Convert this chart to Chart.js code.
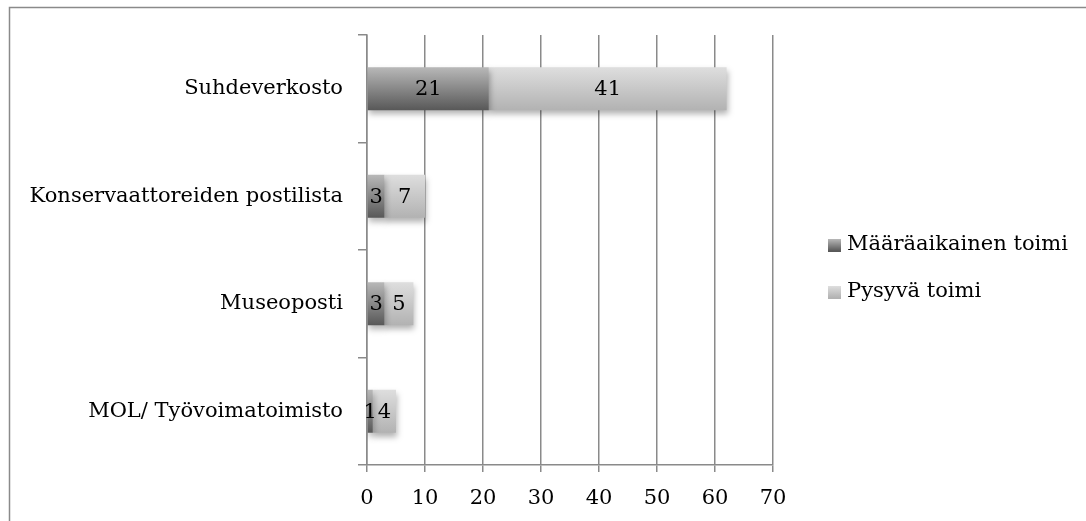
<!DOCTYPE html>
<html>
<head>
<meta charset="utf-8">
<script src="https://cdn.jsdelivr.net/npm/chart.js@4"></script>
<style>
    html, body { margin: 0; padding: 0; background: #fff; }
    #wrap { width: 1086px; height: 521px; position: relative; }
</style>
</head>
<body>
<div id="wrap"><canvas id="chart"></canvas></div>
<script>
const categories = ['Suhdeverkosto', 'Konservaattoreiden postilista', 'Museoposti', 'MOL/ Työvoimatoimisto'];
const seriesNames = ['Määräaikainen toimi', 'Pysyvä toimi'];
const fixedTerm = [21, 3, 3, 1];
const permanent = [41, 7, 5, 4];
const xTicks = [0, 10, 20, 30, 40, 50, 60, 70];

const FONT = '"DejaVu Serif", serif';
const FONT_SIZE = 21;
const CAT_PCT = 0.8, BAR_PCT = 0.5;
const gradStops = [['#b8b8b8', '#585858'], ['#dedede', '#b2b2b2']];

// vertical gradient over each bar, worked out from the category scale
function barFill(ctx) {
    const chart = ctx.chart;
    const stops = gradStops[ctx.datasetIndex];
    const y = chart.scales && chart.scales.y;
    if (!chart.chartArea || !y || ctx.dataIndex == null) return stops[1];
    const mid = y.getPixelForValue(ctx.dataIndex);
    const half = (y.height / categories.length) * CAT_PCT * BAR_PCT / 2;
    if (!isFinite(mid) || !isFinite(half)) return stops[1];
    const g = chart.ctx.createLinearGradient(0, mid - half, 0, mid + half);
    g.addColorStop(0, stops[0]);
    g.addColorStop(1, stops[1]);
    return g;
}

const framePlugin = {
    id: 'frame',
    beforeDraw(chart) {
        const c = chart.ctx;
        c.save();
        c.strokeStyle = '#8a8a8a';
        c.lineWidth = 1.5;
        c.beginPath();
        c.moveTo(1086, 7.5);
        c.lineTo(9.5, 7.5);
        c.lineTo(9.5, 521);
        c.stroke();
        c.restore();
    }
};

const shadowPlugin = {
    id: 'barShadow',
    beforeDatasetsDraw(chart) {
        const c = chart.ctx;
        c.save();
        c.shadowColor = 'rgba(0,0,0,0.3)';
        c.shadowBlur = 6;
        c.shadowOffsetX = 1;
        c.shadowOffsetY = 4;
    },
    afterDatasetsDraw(chart) {
        chart.ctx.restore();
    }
};

const labelPlugin = {
    id: 'valueLabels',
    afterDatasetsDraw(chart) {
        const c = chart.ctx;
        c.save();
        c.font = FONT_SIZE + 'px ' + FONT;
        c.fillStyle = '#000';
        c.textAlign = 'center';
        c.textBaseline = 'middle';
        chart.data.datasets.forEach((ds, i) => {
            chart.getDatasetMeta(i).data.forEach((bar, j) => {
                const p = bar.getCenterPoint();
                c.fillText(String(ds.data[j]), p.x, p.y + 1);
            });
        });
        c.restore();
    }
};

const legendPlugin = {
    id: 'sideLegend',
    afterDraw(chart) {
        const c = chart.ctx;
        c.save();
        c.font = FONT_SIZE + 'px ' + FONT;
        c.textBaseline = 'middle';
        c.textAlign = 'left';
        chart.data.datasets.forEach((ds, i) => {
            const cy = 245 + i * 47;
            const g = c.createLinearGradient(0, cy - 6, 0, cy + 6);
            g.addColorStop(0, gradStops[i][0]);
            g.addColorStop(1, gradStops[i][1]);
            c.fillStyle = g;
            c.fillRect(828, cy - 6, 13, 13);
            c.fillStyle = '#000';
            c.fillText(ds.label, 847, cy);
        });
        c.restore();
    }
};

new Chart(document.getElementById('chart'), {
    type: 'bar',
    data: {
        labels: categories,
        datasets: [
            { label: seriesNames[0], data: fixedTerm, backgroundColor: barFill },
            { label: seriesNames[1], data: permanent, backgroundColor: barFill }
        ]
    },
    options: {
        indexAxis: 'y',
        responsive: true,
        maintainAspectRatio: false,
        animation: false,
        layout: { padding: { top: 35, right: 313, left: 0, bottom: 0 } },
        datasets: { bar: { categoryPercentage: CAT_PCT, barPercentage: BAR_PCT } },
        plugins: {
            legend: { display: false },
            tooltip: { enabled: false }
        },
        scales: {
            x: {
                stacked: true,
                min: 0,
                max: 70,
                afterBuildTicks(scale) {
                    scale.ticks = xTicks.map(v => ({ value: v }));
                },
                afterFit(scale) { scale.height = 56; },
                grid: { color: '#8a8a8a', lineWidth: 1.5, tickLength: 7 },
                border: { color: '#8a8a8a', width: 1.5 },
                ticks: { color: '#000', font: { family: FONT, size: FONT_SIZE }, padding: 14, maxRotation: 0 }
            },
            y: {
                stacked: true,
                afterFit(scale) { scale.width = 367; },
                grid: { offset: true, drawOnChartArea: false, color: '#8a8a8a', lineWidth: 1.5, tickLength: 9 },
                border: { color: '#8a8a8a', width: 1.5 },
                ticks: { color: '#000', font: { family: FONT, size: FONT_SIZE }, padding: 15 }
            }
        }
    },
    plugins: [framePlugin, shadowPlugin, labelPlugin, legendPlugin]
});
</script>
</body>
</html>
